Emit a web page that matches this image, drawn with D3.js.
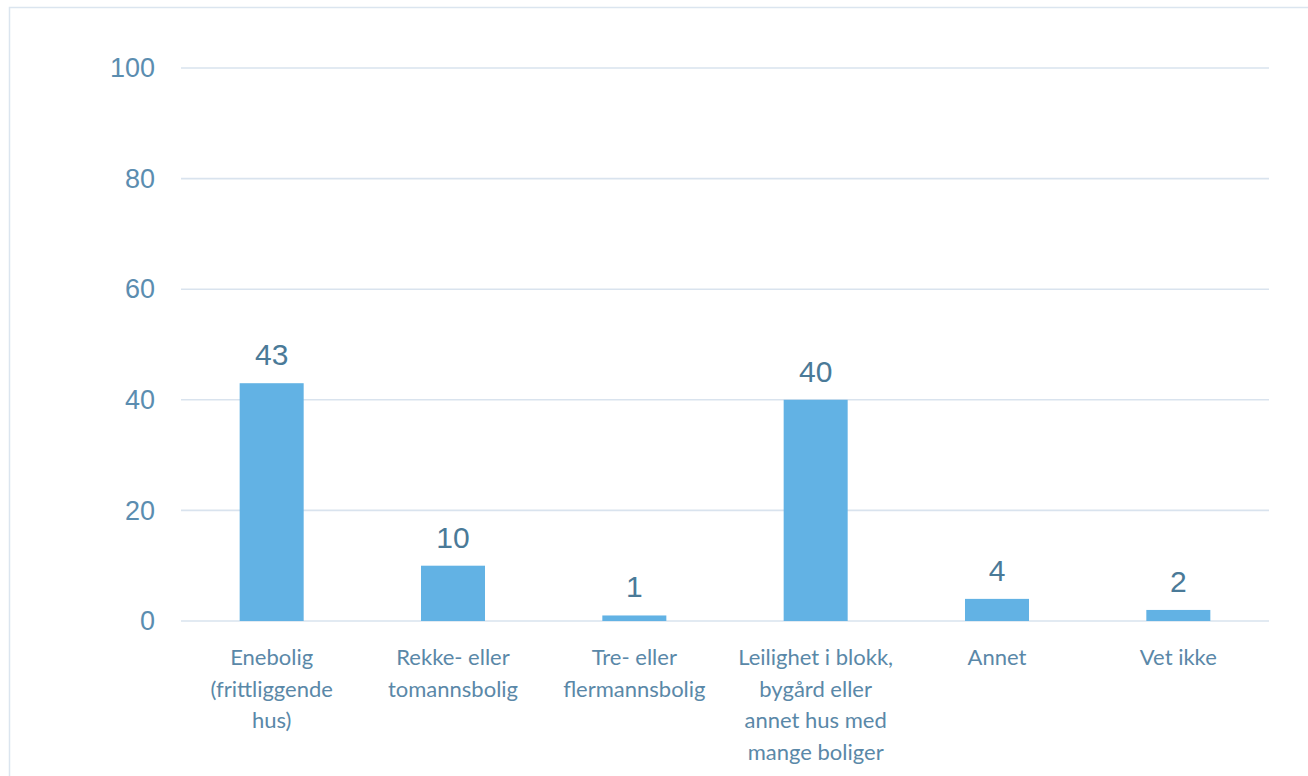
<!DOCTYPE html>
<html>
<head>
<meta charset="utf-8">
<script src="https://cdn.jsdelivr.net/npm/d3@7"></script>
<style>
  html, body { margin: 0; padding: 0; background: #ffffff; }
  svg { display: block; }
</style>
</head>
<body>
<svg id="chart" width="1308" height="776"></svg>
<script>
// Housing type shares (percent)
const categories = [
  ["Enebolig", "(frittliggende", "hus)"],
  ["Rekke- eller", "tomannsbolig"],
  ["Tre- eller", "flermannsbolig"],
  ["Leilighet i blokk,", "bygård eller", "annet hus med", "mange boliger"],
  ["Annet"],
  ["Vet ikke"]
];
const values = [43, 10, 1, 40, 4, 2];
const yTicks = [0, 20, 40, 60, 80, 100];

const W = 1308, H = 776;
const margin = { left: 181, right: 39, top: 68, bottom: 155 };
const svg = d3.select("#chart");

// outer chart frame
svg.append("rect")
  .attr("x", 9.5).attr("y", 7.5)
  .attr("width", W + 10).attr("height", H + 10)
  .attr("fill", "#ffffff")
  .attr("stroke", "#dbe5ef").attr("stroke-width", 1.5);

const x = d3.scaleBand()
  .domain(d3.range(categories.length))
  .range([margin.left, W - margin.right])
  .padding(0);

const y = d3.scaleLinear()
  .domain([0, 100])
  .range([H - margin.bottom, margin.top]);

// gridlines
svg.append("g")
  .selectAll("line")
  .data(yTicks)
  .join("line")
  .attr("x1", margin.left).attr("x2", W - margin.right)
  .attr("y1", d => y(d)).attr("y2", d => y(d))
  .attr("stroke", "#d9e3ee").attr("stroke-width", 1.6);

// y axis labels
const yAxis = d3.axisLeft(y).tickValues(yTicks).tickSize(0).tickPadding(26);
const yg = svg.append("g")
  .attr("transform", `translate(${margin.left},0)`)
  .call(yAxis);
yg.select(".domain").remove();
yg.selectAll("text")
  .attr("font-family", "Liberation Sans, Arial, sans-serif")
  .attr("font-size", 27)
  .attr("fill", "#5b8db0");

// bars
const barW = x.bandwidth() * 0.353;
svg.append("g")
  .selectAll("rect")
  .data(values)
  .join("rect")
  .attr("x", (d, i) => x(i) + (x.bandwidth() - barW) / 2)
  .attr("width", barW)
  .attr("y", d => y(d))
  .attr("height", d => y(0) - y(d))
  .attr("fill", "#62b2e4");

// value labels
svg.append("g")
  .selectAll("text")
  .data(values)
  .join("text")
  .attr("x", (d, i) => x(i) + x.bandwidth() / 2)
  .attr("y", d => y(d) - 18)
  .attr("text-anchor", "middle")
  .attr("font-family", "Liberation Sans, Arial, sans-serif")
  .attr("font-size", 30)
  .attr("fill", "#4a7a98")
  .text(d => d);

// category labels
const catG = svg.append("g");
categories.forEach((lines, i) => {
  const t = catG.append("text")
    .attr("x", x(i) + x.bandwidth() / 2)
    .attr("y", 665)
    .attr("text-anchor", "middle")
    .attr("font-family", "Lato, 'Open Sans', sans-serif")
    .attr("font-size", 22)
    .attr("fill", "#5a88a8");
  lines.forEach((s, j) => {
    t.append("tspan")
      .attr("x", x(i) + x.bandwidth() / 2)
      .attr("y", 665 + j * 31.5)
      .text(s);
  });
});
</script>
</body>
</html>
